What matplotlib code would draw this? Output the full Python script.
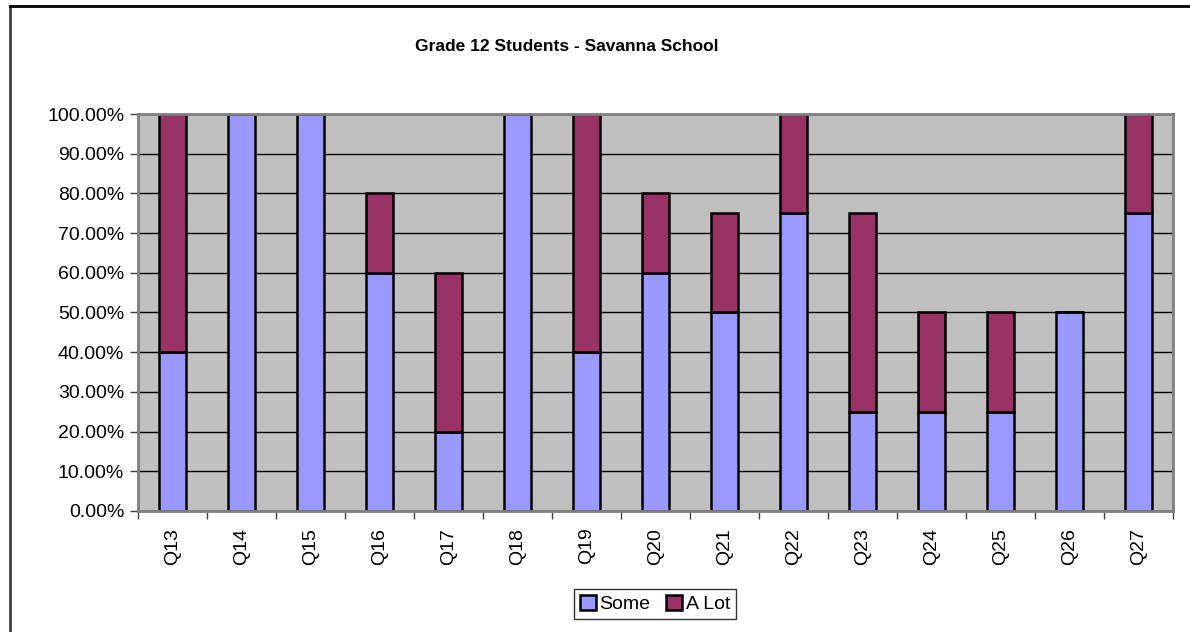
import matplotlib
matplotlib.use("Agg")
import matplotlib.pyplot as plt
from matplotlib.lines import Line2D
from matplotlib.ticker import FuncFormatter, MultipleLocator
import numpy as np

questions = ["Q13", "Q14", "Q15", "Q16", "Q17", "Q18", "Q19", "Q20",
             "Q21", "Q22", "Q23", "Q24", "Q25", "Q26", "Q27"]
some = [40, 100, 100, 60, 20, 100, 40, 60, 50, 75, 25, 25, 25, 50, 75]
a_lot = [60, 0, 0, 20, 40, 0, 60, 20, 25, 25, 50, 25, 25, 0, 25]

plt.rcParams["font.family"] = ["Liberation Sans", "DejaVu Sans"]

fig = plt.figure(figsize=(11.9, 6.32), dpi=100)
ax = fig.add_axes([0.116, 0.1915, 0.8697, 0.6281])
ax.set_facecolor("#C0C0C0")

x = np.arange(len(questions))
ax.bar(x, some, width=0.39, color="#9999FF", edgecolor="black", linewidth=1.8,
       label="Some", zorder=3)
ax.bar(x, a_lot, width=0.39, bottom=some, color="#993366", edgecolor="black",
       linewidth=1.8, label="A Lot", zorder=3)

ax.set_xlim(-0.5, len(questions) - 0.5)
ax.set_ylim(0, 100)
ax.yaxis.set_major_locator(MultipleLocator(10))
ax.yaxis.set_major_formatter(FuncFormatter(lambda v, p: f"{v:.2f}%"))
ax.grid(axis="y", color="black", linewidth=1, zorder=1)
ax.set_axisbelow(True)

ax.set_xticks(x)
ax.set_xticklabels(questions, rotation=90, fontsize=14)
ax.set_xticks(np.arange(-0.5, len(questions)), minor=True)
ax.tick_params(axis="x", which="major", length=0, pad=12)
ax.tick_params(axis="x", which="minor", length=6, width=1, color="#404040")
ax.tick_params(axis="y", length=6, width=1, color="#404040", labelsize=14, pad=4)

for s in ax.spines.values():
    s.set_color("#808080")
    s.set_linewidth(2)
    s.set_zorder(4)

fig.text(0.4765, 0.927, "Grade 12 Students - Savanna School", ha="center",
         va="center", fontsize=12.5, fontweight="bold")

leg = fig.legend(loc="center", bbox_to_anchor=(0.5504, 0.0443), ncol=2,
                 fontsize=14, frameon=True, fancybox=False, handlelength=0.8,
                 handleheight=0.8, handletextpad=0.2, columnspacing=0.8,
                 borderpad=0.3, borderaxespad=0)
leg.get_frame().set_edgecolor("black")
leg.get_frame().set_linewidth(1)

# chart outer border (top and left visible)
fig.add_artist(Line2D([0.0084, 0.0084], [0, 0.9905], transform=fig.transFigure,
                      color="#404040", linewidth=2))
fig.add_artist(Line2D([0.0084, 1], [0.9905, 0.9905], transform=fig.transFigure,
                      color="black", linewidth=2))

fig.savefig("out.png", dpi=100)
